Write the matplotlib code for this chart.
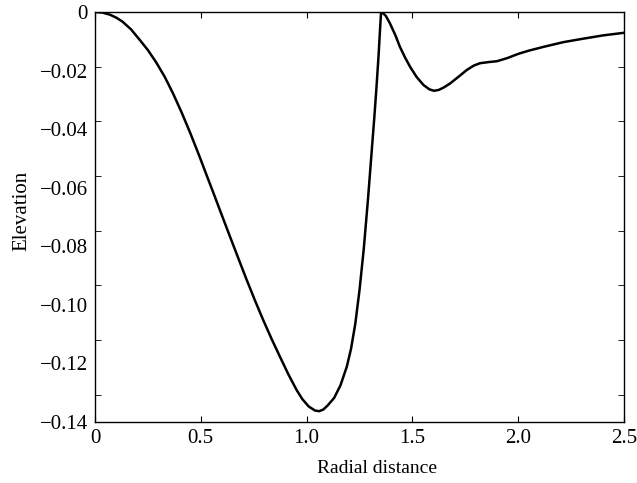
import numpy as np
import matplotlib
matplotlib.use("Agg")
import matplotlib.pyplot as plt
from matplotlib.ticker import FixedLocator, NullFormatter

# curve (radial distance, elevation)
radial = [0.0, 0.035, 0.07, 0.10, 0.13, 0.17, 0.21, 0.25, 0.29, 0.33,
          0.37, 0.41, 0.45, 0.49, 0.53, 0.565, 0.60, 0.638, 0.68, 0.717,
          0.756, 0.795, 0.835, 0.874, 0.913, 0.953, 0.98, 1.01, 1.04, 1.06,
          1.08, 1.10, 1.13, 1.16, 1.19, 1.21, 1.23, 1.25, 1.27, 1.29,
          1.305, 1.32, 1.33, 1.34, 1.347, 1.352, 1.36, 1.375, 1.394, 1.42,
          1.441, 1.465, 1.489, 1.52, 1.552, 1.58, 1.602, 1.625, 1.65, 1.678,
          1.72, 1.757, 1.79, 1.819, 1.86, 1.90, 1.95, 2.0, 2.05, 2.12,
          2.213, 2.3, 2.4, 2.5]
elevation = [0.0, -0.0002, -0.0009, -0.0019, -0.0033, -0.0059, -0.0094, -0.0130, -0.0173, -0.0222,
             -0.0280, -0.0344, -0.0413, -0.0486, -0.0562, -0.0628, -0.0695, -0.0767, -0.0846, -0.0915,
             -0.0985, -0.1052, -0.1117, -0.1177, -0.1236, -0.1291, -0.1322, -0.1347, -0.1361, -0.1363,
             -0.1357, -0.1343, -0.1318, -0.1275, -0.1211, -0.1150, -0.1065, -0.0950, -0.0810, -0.0640,
             -0.0500, -0.0360, -0.0260, -0.0150, -0.0060, 0.0, -0.0003, -0.0014, -0.0039, -0.0080,
             -0.0119, -0.0155, -0.0187, -0.0222, -0.0249, -0.0264, -0.0269, -0.0266, -0.0257, -0.0244,
             -0.0220, -0.0198, -0.0183, -0.0175, -0.0171, -0.0168, -0.0157, -0.0143, -0.0132, -0.0119,
             -0.0103, -0.0092, -0.0080, -0.0071]

xticks = [0, 0.5, 1.0, 1.5, 2.0, 2.5]
xticklabels = ['0', '0.5', '1.0', '1.5', '2.0', '2.5']
yticks = [0, -0.02, -0.04, -0.06, -0.08, -0.10, -0.12, -0.14]
yticklabels = ['0', '\u22120.02', '\u22120.04', '\u22120.06', '\u22120.08',
               '\u22120.10', '\u22120.12', '\u22120.14']

plt.rcParams['font.family'] = ['Liberation Serif', 'DejaVu Serif']

fig = plt.figure(figsize=(6.37, 4.83), dpi=100)
ax = fig.add_axes([95/637, 1 - 422/483, 529/637, 410/483])

ax.plot(radial, elevation, color='black', lw=1.8, solid_joinstyle='round')

ax.set_xlim(0, 2.5)
ax.set_ylim(-0.14, 0)
ax.set_xticks(xticks)
ax.set_xticklabels(xticklabels)
ax.set_yticks(yticks)
ax.set_yticklabels(yticklabels)
# tick marks on the y axis sit on a slightly different spacing than the labels
ax.yaxis.set_minor_locator(FixedLocator([-k * 0.14 / 7.5 for k in range(8)]))
ax.yaxis.set_minor_formatter(NullFormatter())

ax.tick_params(axis='both', direction='in', top=True, right=True, labelsize=15, pad=5)
ax.tick_params(axis='x', which='major', length=4)
ax.tick_params(axis='y', which='major', length=0)
ax.tick_params(axis='y', which='minor', length=4, direction='in', right=True)

for s in ax.spines.values():
    s.set_linewidth(1.0)

ax.set_xlabel('Radial distance', fontsize=14)
ax.set_ylabel('Elevation', fontsize=15)
ax.xaxis.set_label_coords(0.534, -0.092)
ax.yaxis.set_label_coords(-0.121, 0.515)

fig.savefig('out.png', dpi=100)
